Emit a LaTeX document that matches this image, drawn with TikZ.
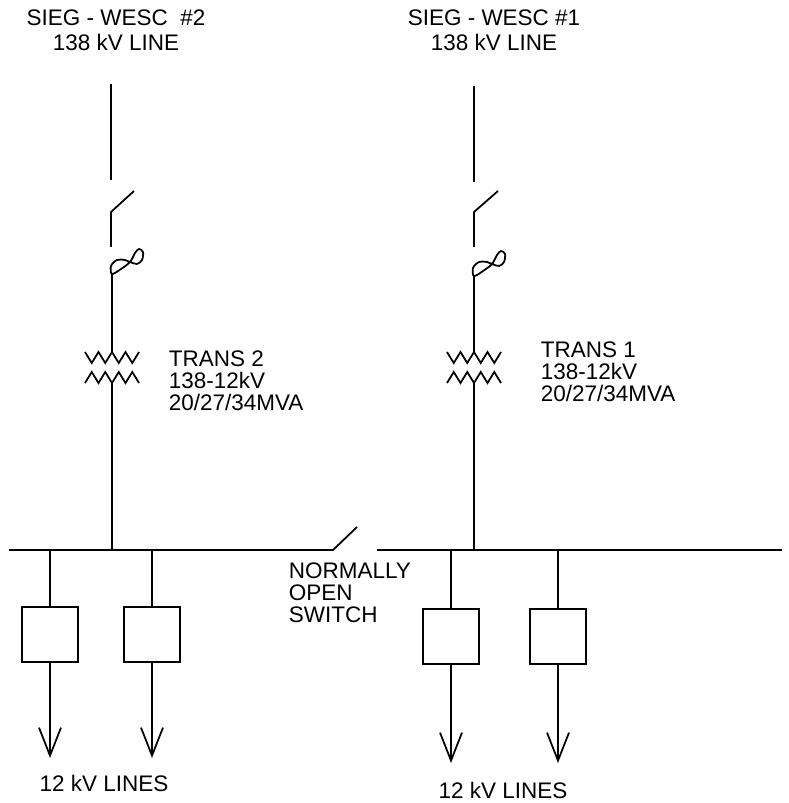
\documentclass[tikz,border=0pt]{standalone}
\usepackage{fontspec}
\setmainfont{Liberation Sans}
\usetikzlibrary{arrows.meta,positioning}

\begin{document}
\begin{tikzpicture}[x=0.02cm, y=-0.02cm, line width=1pt,
    every node/.style={font=\fontsize{12.8}{12.6}\selectfont},
    hdr/.style={align=center, inner sep=0pt, font=\fontsize{12.8}{14.2}\selectfont},
    lbl/.style={align=left, inner sep=0pt, anchor=west},
    brk/.style={draw, rectangle, minimum width=1.12cm, minimum height=1.1cm, inner sep=0pt},
    feed/.style={-{Straight Barb[length=0.56cm,width=0.44cm]}}]
    \useasboundingbox (0,0) rectangle (788,803);

    % line 2 (left)
    \node[hdr] (hdr2) at (116,30) {SIEG - WESC~~\#2\\138 kV LINE};
    \coordinate (l2top) at (111,84);
    \coordinate (l2end) at (111,180);
    \coordinate (sw2a) at (111,212);
    \coordinate (sw2b) at (134,191);
    \coordinate (fu2a) at (111,247);
    \coordinate (fu2b) at (112,274);
    \coordinate (tr2) at (112,367);
    \draw (l2top) -- (l2end);
    \draw (sw2b) -- (sw2a) -- (fu2a);
    \draw plot[smooth cycle, tension=0.55] coordinates {(112,274) (111,266) (117,260) (125,260) (130,262)
        (137,264) (142,260) (143,252) (139,249) (135,253) (130,262) (121,269)};
    \draw (fu2b) -- ([shift={(0,-15)}]tr2);
    \draw ([shift={(-27,-15)}]tr2) \foreach \i in {1,...,4} {-- ++(6.75,11) -- ++(6.75,-11)};
    \draw ([shift={(-27,16)}]tr2) \foreach \i in {1,...,4} {-- ++(6.75,-11) -- ++(6.75,11)};
    \node[lbl] (trans2) at (168,381) {TRANS 2\\138-12kV\\20/27/34MVA};

    % line 1 (right)
    \node[hdr] (hdr1) at (494,30) {SIEG - WESC \#1\\138 kV LINE};
    \coordinate (l1top) at (474,86);
    \coordinate (l1end) at (474,182);
    \coordinate (sw1a) at (474,212);
    \coordinate (sw1b) at (498,191);
    \coordinate (fu1a) at (474,247);
    \coordinate (fu1b) at (474,276);
    \coordinate (tr1) at (474,367);
    \draw (l1top) -- (l1end);
    \draw (sw1b) -- (sw1a) -- (fu1a);
    \draw[shift={(362,2)}] plot[smooth cycle, tension=0.55] coordinates {(112,274) (111,266) (117,260) (125,260) (130,262)
        (137,264) (142,260) (143,252) (139,249) (135,253) (130,262) (121,269)};
    \draw (fu1b) -- ([shift={(0,-15)}]tr1);
    \draw ([shift={(-27,-15)}]tr1) \foreach \i in {1,...,4} {-- ++(6.75,11) -- ++(6.75,-11)};
    \draw ([shift={(-27,16)}]tr1) \foreach \i in {1,...,4} {-- ++(6.75,-11) -- ++(6.75,11)};
    \node[lbl] (trans1) at (540,372) {TRANS 1\\138-12kV\\20/27/34MVA};

    % 12 kV buses and tie switch
    \coordinate (busL) at (9,550);
    \coordinate (tieA) at (333,550);
    \coordinate (tieB) at (357,527);
    \coordinate (busR) at (377,550);
    \coordinate (busRend) at (782,550);
    \draw (busL) -- (tieA) -- (tieB);
    \draw (busR) -- (busRend);
    \draw ([shift={(0,16)}]tr2) -- (tr2 |- busL);
    \draw ([shift={(0,16)}]tr1) -- (tr1 |- busR);
    \node[lbl] (nosw) at (288,593) {NORMALLY\\OPEN\\SWITCH};

    % feeder breakers
    \node[brk] (cb1) at (50,634.5) {};
    \node[brk] (cb2) at (152,634.5) {};
    \node[brk] (cb3) at (451,636.5) {};
    \node[brk] (cb4) at (558,636.5) {};
    \coordinate (out1) at (50,758);
    \coordinate (out2) at (152,758);
    \coordinate (out3) at (451,763);
    \coordinate (out4) at (558,763);
    \draw (cb1.north |- busL) -- (cb1.north);
    \draw (cb2.north |- busL) -- (cb2.north);
    \draw (cb3.north |- busR) -- (cb3.north);
    \draw (cb4.north |- busR) -- (cb4.north);
    \draw[feed] (cb1.south) -- (out1);
    \draw[feed] (cb2.south) -- (out2);
    \draw[feed] (cb3.south) -- (out3);
    \draw[feed] (cb4.south) -- (out4);
    \node (lines2) at (104,783) {12 kV LINES};
    \node (lines1) at (503,790) {12 kV LINES};
\end{tikzpicture}
\end{document}
